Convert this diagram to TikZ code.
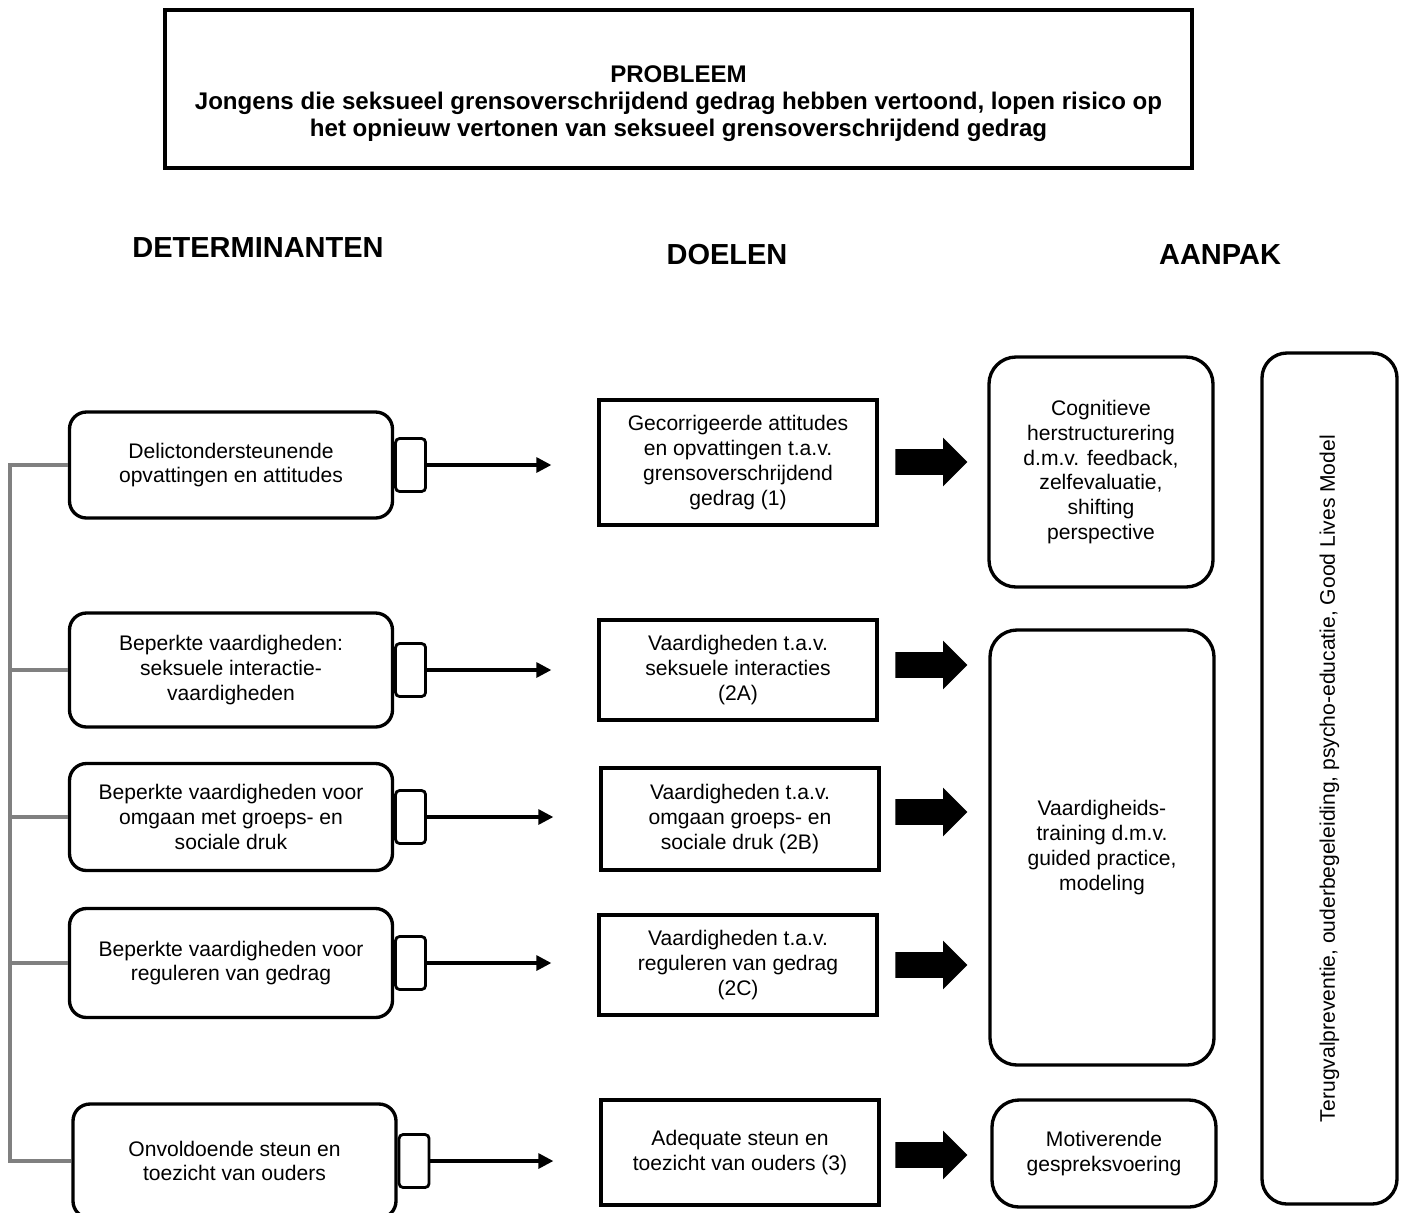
\documentclass[tikz,border=0pt]{standalone}
\usepackage{fontspec}
\setmainfont{Liberation Sans}
\usetikzlibrary{arrows.meta,shapes.arrows,positioning}

\tikzset{
  body/.style={font=\fontsize{12}{14.1}\selectfont, align=center},
  detbox/.style={body, draw, line width=1.9pt, rounded corners=3.4mm, minimum width=64.6mm},
  tabbox/.style={draw, line width=1.6pt, rounded corners=0.8mm, minimum width=6mm, minimum height=10.6mm, inner sep=0pt},
  doelbox/.style={body, draw, line width=1.9pt, minimum width=55.6mm},
  aanpakbox/.style={body, draw, line width=1.9pt, rounded corners=5.4mm, minimum width=44.8mm},
  kop/.style={font=\fontsize{16.5}{19}\selectfont\bfseries},
  conn/.style={line width=1.8pt, -{Triangle[length=3mm,width=3mm]}, shorten >=9.2mm},
  bigarrow/.style={single arrow, fill=black, draw=none, inner xsep=0pt, inner ysep=2.5mm,
    minimum height=14.4mm, minimum width=9.6mm, single arrow head extend=2.3mm},
  rail/.style={draw=gray, line width=2pt}
}

\begin{document}
\begin{tikzpicture}[x=0.2mm,y=-0.2mm]
\useasboundingbox (0,0) rectangle (1408,1212);

\node[draw, line width=2.6pt, minimum width=205.4mm, minimum height=31.6mm] (probleembox) at (678.5,89) {};
\node[font=\fontsize{13.7}{15.4}\selectfont\bfseries, align=center] (probleem) at (678.5,104)
  {PROBLEEM\\Jongens die seksueel grensoverschrijdend gedrag hebben vertoond, lopen risico op\\het opnieuw vertonen van seksueel grensoverschrijdend gedrag};

\node[kop] (determinanten) at (258,248) {DETERMINANTEN};
\node[kop] (doelen) at (727,255) {DOELEN};
\node[kop] (aanpak) at (1220,255) {AANPAK};

% determinanten
\node[detbox, minimum height=21.2mm] (d1) at (231,465) {Delictondersteunende\\opvattingen en attitudes};
\node[detbox, minimum height=22.8mm] (d2) at (231,670) {Beperkte vaardigheden:\\seksuele interactie-\\vaardigheden};
\node[detbox, minimum height=21.4mm] (d3) at (231,817) {Beperkte vaardigheden voor\\omgaan met groeps- en\\sociale druk};
\node[detbox, minimum height=21.8mm] (d4) at (231,963) {Beperkte vaardigheden voor\\reguleren van gedrag};
\node[detbox, minimum height=22.8mm] (d5) at (234.5,1161) {Onvoldoende steun en\\toezicht van ouders};

\foreach \n in {1,...,5}
  \node[tabbox, right=0pt of d\n] (t\n) {};

% doelen
\node[doelbox, minimum height=25mm] (m1) at (738,462.5) {Gecorrigeerde attitudes\\en opvattingen t.a.v.\\grensoverschrijdend\\gedrag (1)};
\node[doelbox, minimum height=20mm] (m2) at (738,670) {Vaardigheden t.a.v.\\seksuele interacties\\(2A)};
\node[doelbox, minimum height=20.4mm] (m3) at (740,819) {Vaardigheden t.a.v.\\omgaan groeps- en\\sociale druk (2B)};
\node[doelbox, minimum height=20mm] (m4) at (738,965) {Vaardigheden t.a.v.\\reguleren van gedrag\\(2C)};
\node[doelbox, minimum height=21mm] (m5) at (740,1152.5) {Adequate steun en\\toezicht van ouders (3)};

\foreach \n in {1,...,5}
  \draw[conn] (t\n.east) -- (m\n.west |- t\n.east);

% aanpak
\node[aanpakbox, minimum height=46mm] (r1) at (1101,472) {Cognitieve\\herstructurering\\d.m.v. feedback,\\zelfevaluatie,\\shifting\\perspective};
\node[aanpakbox, minimum height=87mm] (r2) at (1102,847.5) {Vaardigheids-\\training d.m.v.\\guided practice,\\modeling};
\node[aanpakbox, minimum height=21.4mm] (r3) at (1104,1153.5) {Motiverende\\gespreksvoering};
\node[body, draw, line width=1.9pt, rounded corners=5mm, minimum width=27mm, minimum height=170.2mm] (breed) at (1329.5,778.5) {};
\node[body, rotate=90] (breedtekst) at (breed.center) {Terugvalpreventie, ouderbegeleiding, psycho-educatie, Good Lives Model};

\node[bigarrow] (a1) at (925,462) {};
\node[bigarrow] (a2) at (925,665) {};
\node[bigarrow] (a3) at (925,812) {};
\node[bigarrow] (a4) at (925,965) {};
\node[bigarrow] (a5) at (925,1155) {};

% gray rail
\coordinate (railtop) at (10,465);
\draw[rail] (d1.west) -- (railtop) -- (railtop |- d5.west) -- (d5.west);
\foreach \n in {2,3,4}
  \draw[rail] (d\n.west) -- (railtop |- d\n.west);

\end{tikzpicture}
\end{document}
